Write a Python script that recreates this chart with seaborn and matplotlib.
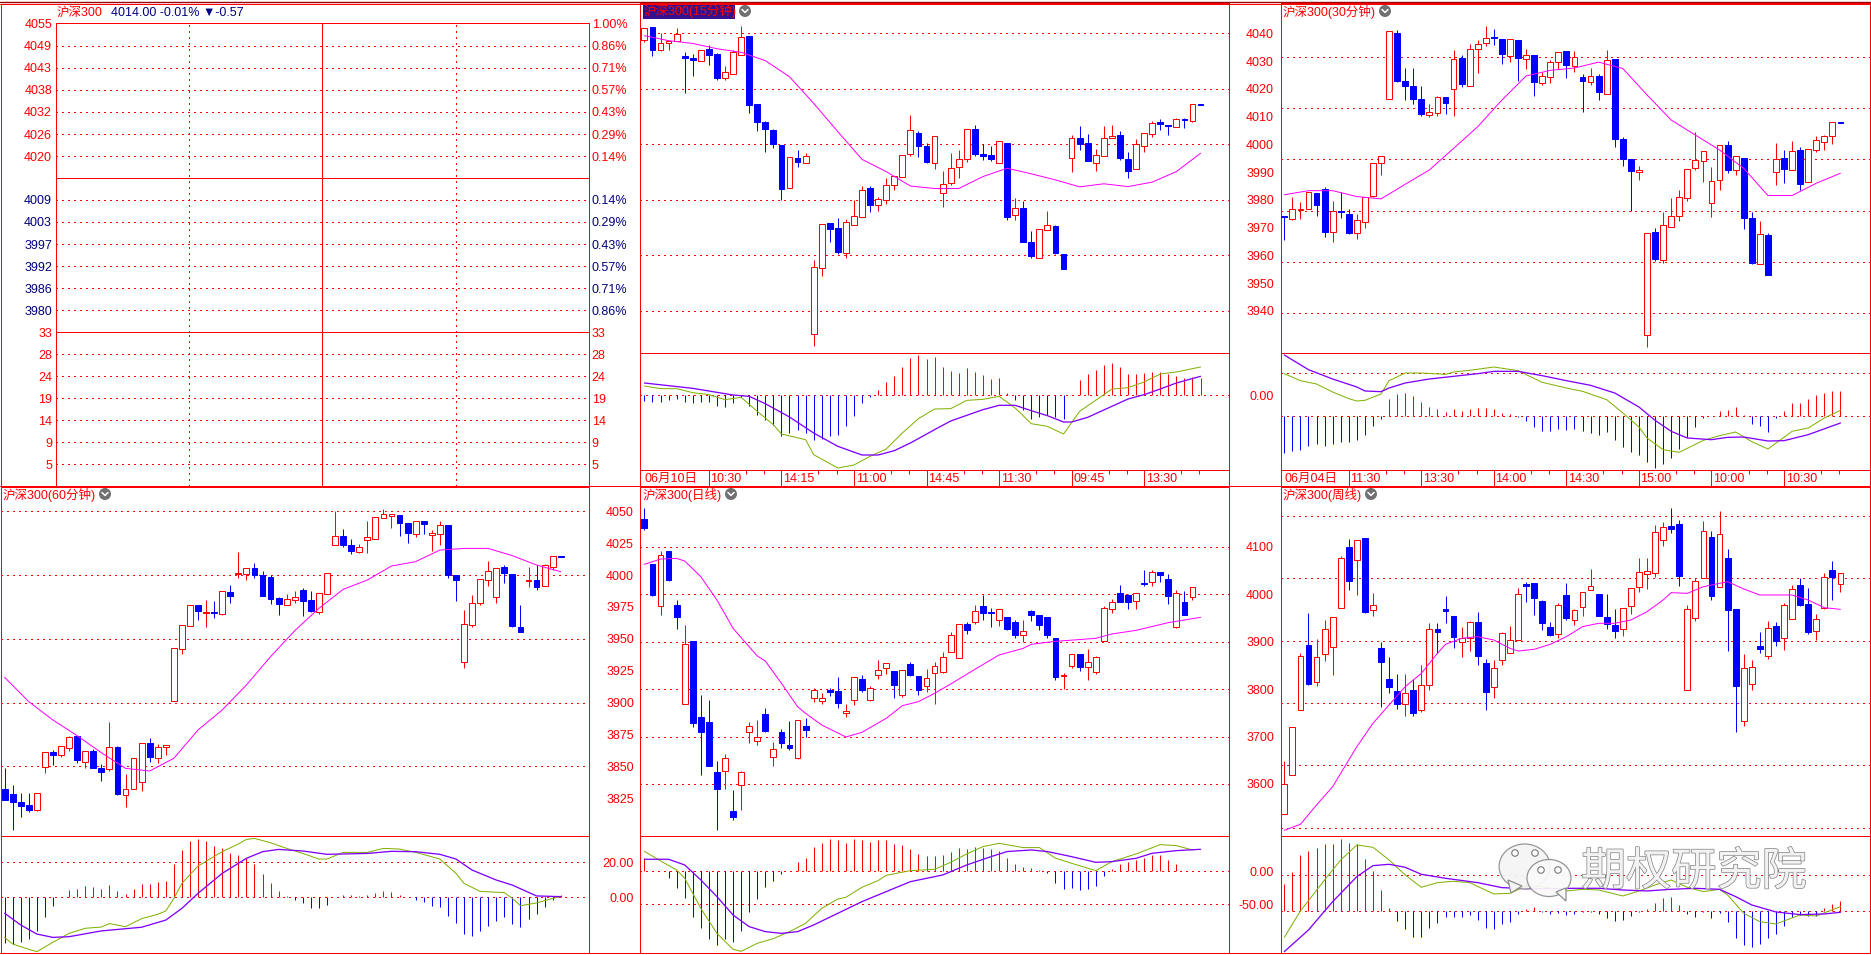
import numpy as np
import matplotlib
matplotlib.use("Agg")
import matplotlib.pyplot as plt
import matplotlib.patheffects as pe
from matplotlib.patches import Ellipse, Polygon, Rectangle
import seaborn as sns

sns.set_theme(style="white")
plt.rcParams["font.family"] = ["Liberation Sans", "Noto Sans CJK SC", "DejaVu Sans"]

# ---------- 15 minute ----------
m15_open = [4037.8,4042.3,4034.2,4036.4,4037.4,4031.8,4031.1,4030.2,4034.4,4032.6,
4024.0,4025.5,4032.3,4039.0,4014.6,4008.1,4005.2,3999.8,3984.4,3995.0,
3993.4,3931.5,3955.3,3971.7,3969.9,3961.0,3971.1,3974.0,3984.3,3978.0,
3979.8,3985.3,3988.4,3996.7,4004.1,3999.4,3993.4,3982.6,3986.2,3992.0,
3994.9,4005.4,3996.6,3996.2,3993.4,4000.5,3974.4,3977.1,3964.9,3959.2,
3969.3,3970.6,3960.6,3995.2,4002.3,4000.5,3993.4,3996.0,4002.4,4003.4,
3994.8,3991.3,3999.6,4003.9,4008.0,4007.1,4006.4,4009.3,4008.6,4014.4]
m15_high = [4041.8,4042.3,4040.0,4037.4,4041.9,4033.3,4032.6,4034.2,4035.8,4032.8,
4028.2,4034.0,4042.6,4039.0,4014.6,4008.6,4005.6,3999.8,3995.4,3998.0,
3996.8,3958.4,3971.2,3971.7,3973.5,3973.2,3980.0,3985.0,3985.0,3981.2,
3987.9,3988.5,3996.1,4010.6,4004.8,4000.4,4002.9,3990.4,3996.9,3998.0,
4005.4,4007.0,4000.2,3999.4,4001.1,4000.5,3980.7,3979.6,3968.8,3969.4,
3976.0,3971.0,3960.6,4003.4,4006.6,4003.8,3998.4,4006.6,4007.0,4004.8,
3997.3,4001.8,4004.0,4008.3,4009.2,4007.1,4009.4,4009.5,4014.4,4014.4]
m15_low = [4037.0,4032.0,4033.8,4034.0,4037.4,4018.6,4024.6,4030.2,4028.6,4023.2,
4023.2,4025.5,4032.3,4011.2,4004.8,3997.3,3998.7,3979.8,3984.4,3991.9,
3993.4,3927.2,3952.6,3964.9,3960.6,3959.2,3971.1,3974.0,3975.7,3976.0,
3978.6,3983.6,3988.4,3995.8,3995.5,3993.3,3991.2,3977.5,3985.4,3987.9,
3993.7,3995.8,3994.4,3994.0,3993.4,3972.8,3972.8,3964.9,3959.1,3959.2,
3969.3,3960.6,3955.2,3990.1,3998.0,3994.0,3990.4,3996.0,4002.4,3994.4,
3987.9,3991.3,3997.3,4002.7,4005.2,4003.4,4006.4,4005.9,4008.1,4014.2]
m15_close = [4041.8,4034.0,4036.4,4037.4,4039.8,4031.2,4030.5,4034.2,4032.2,4023.9,
4026.0,4033.3,4038.9,4014.2,4008.1,4005.6,4000.2,3984.0,3995.4,3993.7,
3995.7,3955.8,3971.2,3969.6,3961.3,3972.0,3974.1,3983.5,3978.2,3980.2,
3985.3,3988.5,3996.1,4005.1,3999.4,3993.7,4002.9,3985.6,3991.4,3994.6,
4005.4,3996.6,3995.8,3994.8,4001.1,3973.9,3977.0,3964.9,3959.8,3969.4,
3970.9,3960.9,3955.2,4002.2,4000.2,3994.0,3996.1,4002.2,4003.0,3995.1,
3990.4,4000.0,4004.0,4007.6,4007.4,4006.8,4009.0,4008.9,4014.4,4014.2]
m15_ma_i = [0,3,6,9,12,15,18,21,24,27,30,33,36,39,42,45,48,51,54,57,60,63,66,69]
m15_ma = [4039.2,4037.4,4036.4,4034.5,4033.2,4030.2,4024.4,4014.8,4004.6,3994.6,3990.2,3985,
3984.1,3984.1,3988.4,3991.4,3989.4,3987.2,3984.7,3985.8,3984.8,3986.4,3990.2,3996.8]
m15_hist = [-3.4,-4.4,-4,-3.2,-2.2,-4,-5,-4.4,-4.4,-6.8,-7.4,-5,-1,-6.8,-12.2,-15.2,-18.2,-24.4,-23,-21.2,
-23,-27.2,-26.6,-24.8,-24.2,-18.8,-12.8,-5,-1,2.8,7.6,11.6,16.6,22.4,23.8,21.8,23,17,14.6,13.4,
16.4,14,12.2,9.8,10.4,1.4,-2.8,-9.2,-14.2,-13.4,-11.8,-13,-14.2,0,9.2,12.8,15.2,18.2,19.4,17,
12.8,12.4,13.4,14,14,12.8,11.6,10.4,11,10.4]
m15_dif_i = [0,2,4,6,8,10,12,14,16,17,20,21,24,26,28,30,32,34,36,38,40,42,44,46,48,50,52,54,57,58,60,62,64,66,69]
m15_dif = [5.4,3.8,3.8,1.4,.2,-2.8,-1.4,-9.8,-17.8,-23.4,-26.8,-35.8,-43.8,-42,-36.8,-32.4,-22.8,-14.2,-8.4,-8.2,
-3.2,-2.6,-.8,-7.8,-17.2,-18.8,-23.4,-9.8,.2,3.6,4.4,7.8,12.6,13.8,16.8]
m15_dea_i = [0,3,6,9,11,13,15,18,21,24,27,29,31,33,36,38,40,42,44,46,48,50,52,53,55,58,60,62,64,66,69]
m15_dea = [7.2,5.6,4,1.6,0,-.8,-5.2,-13.2,-22.8,-30.8,-36,-36,-33.4,-28.8,-20.8,-15.6,-12.2,-8.8,-6.2,-6.2,-9.4,
-12.4,-16.2,-16.2,-13.4,-6.8,-2.4,.2,3.6,7.2,11.2]

# ---------- 30 minute ----------
m30_open = [3978.0,3976.9,3980.3,3980.8,3986.8,3988.4,3971.5,3979.9,3978.7,3971.1,
3975.7,3985.9,3998.5,4023.7,4049.3,4030.6,4028.7,4023.6,4017.5,4018.3,
4024.4,4027.6,4039.6,4028.8,4043.2,4045.3,4047.8,4047.0,4040.5,4046.6,
4039.3,4040.7,4030.0,4032.3,4038.2,4042.3,4036.6,4032.2,4030.3,4032.6,
4025.7,4039.2,4008.0,4000.2,3994.9,3931.3,3971.7,3960.9,3973.8,3978.1,
3985.0,3996.8,3999.2,3982.8,3992.0,4005.6,3996.0,4000.6,3977.2,3959.0,
3970.5,3995.2,4000.6,3996.0,4003.7,3991.3,4003.8,4006.9,4009.0,4014.5]
m30_high = [3978.0,3985.2,3983.4,3987.2,3986.8,3989.2,3983.8,3987.3,3980.6,3978.7,
3985.5,3998.5,4001.2,4050.0,4050.5,4035.7,4035.7,4028.7,4021.6,4024.8,
4024.4,4042.7,4040.7,4045.0,4046.6,4052.1,4050.9,4047.0,4047.2,4046.6,
4043.1,4040.7,4034.1,4038.8,4041.8,4042.3,4042.3,4033.3,4035.7,4033.3,
4042.7,4039.2,4008.8,4000.2,3997.5,3971.2,3973.3,3979.5,3985.0,3988.1,
3996.2,4010.7,4003.2,3997.1,4005.5,4007.2,4001.2,4000.6,3979.5,3976.0,
3971.3,4006.4,4003.7,4007.2,4004.9,4004.0,4009.2,4009.5,4014.5,4014.5]
m30_low = [3968.6,3976.4,3976.8,3980.8,3978.0,3969.8,3967.8,3977.2,3970.9,3969.0,
3973.3,3985.4,3993.9,4023.7,4030.2,4023.2,4021.6,4017.0,4016.6,4017.0,
4017.7,4017.0,4028.3,4028.8,4033.7,4044.3,4044.6,4037.2,4038.0,4030.6,
4035.3,4024.8,4029.0,4029.8,4035.3,4031.8,4034.1,4018.5,4029.0,4023.2,
4025.7,4004.9,3997.5,3979.9,3992.0,3926.9,3960.4,3959.4,3973.8,3976.0,
3983.8,3995.9,3991.2,3977.6,3988.1,3994.7,3993.9,3972.9,3959.1,3959.0,
3954.9,3990.0,3990.8,3996.0,3988.1,3991.3,4002.9,4003.7,4006.0,4014.2]
m30_close = [3977.4,3980.6,3980.7,3987.2,3982.2,3971.7,3979.8,3979.5,3971.3,3976.3,
3985.5,3998.5,4001.2,4050.0,4030.6,4028.7,4023.6,4017.7,4018.4,4024.2,
4022.0,4039.1,4029.4,4043.3,4044.9,4047.6,4047.4,4041.1,4047.2,4039.6,
4040.6,4030.2,4032.4,4037.9,4041.8,4036.8,4040.0,4030.6,4032.4,4026.3,
4038.9,4008.0,4000.2,3995.5,3995.8,3971.2,3961.2,3974.3,3977.8,3985.2,
3996.2,3999.7,4003.2,3991.5,4005.5,3995.9,4001.2,3977.2,3959.5,3970.8,
3954.9,4000.0,3996.3,4003.2,3990.4,4004.0,4007.5,4009.0,4014.5,4014.2]
m30_ma_i = [0,3,6,9,12,15,18,21,24,27,30,33,36,39,42,45,48,51,54,57,60,63,66,69]
m30_ma = [3986.2,3987.8,3987.8,3985.5,3984.6,3990.3,3995.9,4004.3,4012.8,4023.2,4032.6,4034.8,
4035.7,4038,4035.5,4025.2,4015.4,4009.5,4003.7,3996.5,3985.9,3985.9,3990.7,3994.6]
m30_hist = [-22,-20.8,-20.2,-17.8,-16.6,-17.8,-16.6,-15.4,-15.4,-14.2,-11.2,-5.8,-1.6,10.4,13.4,14,12.2,8.6,5.6,4.4,
2.6,4.4,3.2,4.4,5,5,4.4,2,1.4,-.8,-2.8,-6.4,-8.8,-8.8,-7.6,-8.2,-7.6,-8.8,-10,-11.2,
-9.4,-14.2,-18.4,-21.4,-23.2,-27.4,-31,-28.6,-25,-19.6,-12.4,-6.4,-1,0,3.2,3.8,5.6,.6,-4.6,-5.8,
-9.4,-1,3.2,8,8,10.4,12.8,14,15.2,15.2]
m30_dif_i = [0,2,4,6,8,9,10,12,13,15,17,20,21,23,26,29,32,35,37,40,42,44,45,47,49,52,54,56,58,60,63,65,67,69]
m30_dif = [25.4,21.2,19.2,14.4,10.4,9,9.4,13.2,21.2,25.8,25.8,25,26.4,27.4,29.4,27.2,20.2,16.8,14.8,9.8,1.8,-6.6,
-13.2,-20.2,-21.8,-14.6,-11.8,-9.6,-15.4,-19.8,-9.2,-7.2,-1.2,3.4]
m30_dea_i = [0,3,6,9,10,12,13,15,18,21,24,26,29,32,35,38,41,44,46,48,50,53,55,57,60,62,65,69]
m30_dea = [36.6,27.8,22.2,17.4,15,14.6,16.8,19.8,22.2,23.8,25.4,26.8,26.8,24.2,21.2,18.4,13.8,5.4,-2.6,-9.2,-13.2,
-14.2,-12.8,-12.6,-15,-14.8,-11.2,-4.2]

# ---------- 60 minute ----------
m60_open = [3832.2,3828.3,3822,3819.7,3816,3849.7,3861.2,3859.1,3864.6,3873.8,
3853.6,3862,3848.7,3848.1,3865.1,3827.8,3831.9,3838,3868.3,3856.8,
3864.9,3901.5,3942.3,3960.3,3976.5,3970,3970.7,3969.7,3986.7,4000.6,
4001.1,4005.5,4000,3998.5,3982,3976.8,3980.4,3988.3,3980.4,3971.3,
3985.4,4023.8,4030.6,4023.6,4018.1,4027.7,4028.5,4045,4046.6,4047.1,
4040.8,4032.4,4042.4,4031.7,4032.2,4039.2,4000,3931.5,3961.1,3978.3,
3996.4,3983,4006.3,4000.8,3959.2,3995.3,3996.1,3991.7,4006.6,4014.7]
m60_high = [3848.7,3835.3,3829.1,3829.1,3828.8,3861,3862.8,3865.7,3873.5,3873.8,
3861.7,3863.6,3851.8,3884.7,3865.9,3844,3856.3,3868,3872.2,3867.5,
3866.4,3942.5,3960.6,3976.2,3976.5,3980.4,3979.6,3987.2,3992.2,4018.1,
4005.2,4009.4,4003.2,4000,3982.8,3985.1,3987.5,3989.8,3987.5,3985.6,
4001.3,4049.9,4036.1,4028.3,4024.3,4042.4,4045.2,4051.8,4047.6,4047.1,
4040.8,4042.1,4042.4,4035.3,4042.4,4039.2,4000,3972.6,3984.3,3996.6,
4011,4005.2,4007.9,4000.8,3976.5,4006.3,4007.9,4008.6,4014.7,4014.7]
m60_low = [3823.6,3800,3810.2,3814.2,3815.2,3844.7,3851,3857.3,3862,3852.6,
3848.7,3848.7,3838.5,3846.3,3827.5,3818.1,3831.9,3830.6,3853.4,3852.6,
3858.9,3901.5,3938.1,3960.3,3964.7,3959.2,3966.3,3968.7,3978.1,3997.7,
3996.1,3997.7,3983.6,3977.3,3968.7,3976.8,3978.1,3967.9,3971,3969.4,
3985.4,4023.8,4022,4016.5,4017.3,4017.3,4028.5,4045,4036.9,4030.6,
4025.1,4029.8,4032.2,4018.8,4023.6,3997.7,3979.6,3927.1,3959.2,3976.5,
3991.4,3978.1,3993.7,3959.2,3955.3,3990.6,3988.3,3991.7,4004.2,4014.4]
m60_close = [3823.6,3822,3818.9,3815.7,3828.8,3861,3858.9,3865.7,3872.7,3854.9,
3861.7,3848.7,3845.6,3864.9,3828.3,3831.9,3856.3,3868,3857.3,3864.9,
3866.4,3942.5,3960.6,3976.2,3971.8,3970.7,3970.2,3987.2,3983.6,4001.3,
4005.2,4000,3983.6,3981.2,3977.3,3980.9,3982.5,3979.6,3971.8,3985.6,
4001.3,4030.3,4023.6,4018.8,4021.7,4029.6,4045.2,4047.6,4047.6,4040.8,
4033,4042.1,4040,4032.7,4039,4000,3996.1,3961.3,3977.8,3996.6,
4002.9,4005.2,4001.6,3960,3955.3,3995.8,3990.6,4007.6,4014.7,4014.4]
m60_ma_i = [0,3,6,9,12,15,18,21,24,27,30,33,36,39,42,45,48,51,54,57,60,63,66,69]
m60_ma = [3919.8,3900.7,3886.3,3874,3860.7,3848.4,3846.3,3856.3,3878.5,3894.2,3913.8,3936,3956.4,3973.9,3988.8,
3996.1,4007.1,4010.5,4019.6,4020.9,4020.9,4015.2,4007.9,4002.6]
m60_hist = [-25.9,-26.7,-25.3,-23.6,-19,-11,-5,0,4.2,4.8,6.5,5.9,4.8,7,3.6,1.9,4.8,7.6,7.6,8.8,
9.3,19,27,32.2,33.3,32.2,29.3,28.2,25.3,24.2,22.5,19,13.3,8.2,3.6,.8,-1.3,-3.2,-6.1,-6.1,
-4.4,0,1.3,1.3,.8,1.3,2.5,3.6,3,1.3,0,-1.3,-2.7,-5,-5.5,-10.7,-14.7,-21,-22.1,-19.2,
-16.4,-13.5,-11.2,-15.2,-17,-12.4,-9.5,-5.5,-1.5,1.1]
m60_dif_i = [0,1,3,4,6,8,10,12,13,15,17,19,20,21,22,24,27,29,30,31,33,35,37,39,40,42,45,47,49,51,53,54,56,57,59,62,63,64,66,68,69]
m60_dif = [-22.9,-26.7,-29.7,-31.1,-25.7,-20.6,-17.7,-17,-15,-16.8,-12.2,-9.7,-7.8,-.6,8,17.9,26.1,30.5,33.1,33.7,
31.2,28,25.1,21.9,21.9,25.7,25.7,28,27.6,25.7,23.2,21.9,13.7,8,3.4,2.7,-.6,-4.8,-3.2,-.6,.4]
m60_dea_i = [0,2,4,6,8,12,17,20,22,24,27,30,32,34,37,40,45,48,51,54,56,58,61,63,66,69]
m60_dea = [-9.1,-15.8,-21,-22.9,-22.5,-19.2,-17.1,-13,-6.3,2.3,13.7,22.3,26.1,27.4,26.5,24.6,25.1,26.3,26.1,24.6,
21.9,15.6,9.9,7,.8,.4]

# ---------- daily ----------
day_open = [4158.9,4064,3974.7,4091.4,3977.5,3768.7,3901.6,3741.3,3730.8,3625.3,
3628.1,3543.1,3598.6,3710.4,3691.4,3747.6,3657.6,3709.7,3682.3,3654.8,
3722.3,3780.7,3775.1,3798.3,3796.1,3750.5,3777.9,3821.5,3777.9,3830.6,
3845.4,3838.3,3788.4,3853.1,3827.8,3807.4,3834.8,3836.9,3879.1,3866.4,
3937.4,3942.4,3975.4,3962.8,3946.6,3952.2,3941.7,3915,3964.9,3956.4,
3952.2,3907.9,3828.5,3849.6,3874.2,3847.5,3836.9,3900.9,3969.8,4002.8,
3998.6,3986.7,4023.2,4026.7,4047.1,4032.4,3931.1,3983.8,3995.1]
day_high = [4182.1,4064,4091.4,4091.4,3988.1,3935.3,3901.6,3787.7,3777.2,3648.5,
3663.3,3587.4,3626.7,3730.8,3735,3760.3,3688.6,3716,3732.9,3734.3,
3739.2,3801.8,3791.9,3802.5,3825.7,3768.7,3825,3829.9,3806.7,3861.5,
3854.5,3838.3,3839.7,3857.3,3827.8,3842.5,3857.3,3878.4,3920.6,3936.7,
3941.7,3977.5,3998.6,3971.2,3968.4,3952.2,3945.9,3945.9,3967,3956.4,
3952.2,3907.9,3834.1,3873.5,3874.2,3884.7,3870,3974.7,3990.2,4019.7,
4000.7,4002.1,4051.3,4051.3,4047.1,4042.9,4008.5,4007,4014.8]
day_low = [4135.7,3996.5,3956.4,4028.1,3926.9,3768.7,3720.2,3619,3638,3503,
3589.5,3524.1,3545.2,3686.5,3682.3,3709.7,3638,3675.9,3671.7,3652.7,
3699.1,3772.9,3768.7,3785.6,3760.3,3741.3,3766.6,3794,3775.1,3821.5,
3832,3781.4,3783.5,3827.8,3787.7,3794,3768.7,3834.1,3879.1,3866.4,
3916.4,3937.4,3945.9,3931.1,3933.2,3924.8,3907.9,3899.5,3943.8,3924.8,
3907.9,3819.3,3800.4,3844.7,3838.3,3819.3,3832,3900.9,3960.6,3983.8,
3969.1,3969.1,4017.6,4017.6,4026,3979.6,3929,3956.4,3988.1]
day_close = [4139.9,3998.6,4082.3,4030.2,3952.2,3894.6,3728.6,3709.7,3638,3589.5,
3654.1,3530.4,3624.6,3721.6,3699.1,3711.8,3673.1,3686.5,3675.9,3734.3,
3713.9,3797.6,3780.7,3794.7,3770.8,3753.3,3825,3798.3,3801.8,3839.7,
3854.5,3808.8,3839.7,3829.9,3798.3,3822.9,3848.2,3867.1,3913.5,3936.7,
3924.8,3964.2,3960.6,3960.6,3968.4,3926.9,3914.2,3922,3956.4,3935.3,
3914.2,3825.7,3830.6,3873.5,3846.8,3856.6,3867.1,3970.5,3983.1,3983.8,
3983.8,4002.1,4021.1,4046.4,4040.8,3996.5,4002.1,3956.4,4014.8]
day_ma_i = [0,2,4,5,7,9,11,14,15,17,19,20,22,25,27,30,32,34,36,38,41,44,47,48,51,56,58,61,65,69]
day_ma = [4063.3,4074.5,4075.9,4070.3,4037.3,3988.1,3928.3,3870,3859.4,3812.3,3763.1,3749,3724.4,3699.1,3709,
3738.5,3765.2,3773.6,3791.2,3810.9,3841.8,3872.1,3886.1,3894.6,3900.9,3907.2,3916.4,3924.1,3940.3,3951.5]
day_hist = [20.2,0,0,-10.1,-25.3,-40.4,-69.2,-85.9,-102.5,-111.6,-102.5,-107.1,-90.4,-61.6,-41.9,-23.7,-14.6,-4,0,14.1,
20.2,36.9,42.9,49,47.5,42.9,49,47.5,44.4,47.5,47.5,41.4,39.9,33.8,26.3,23.2,23.2,24.7,29.3,35.4,
33.8,36.9,35.4,33.8,30.8,20.2,11.1,6.6,5,2,-2.5,-17.7,-26.8,-25.3,-28.3,-26.8,-22.2,-7.1,3.5,11.1,
14.1,17.2,20.2,24.7,24.7,17.2,11.1,.5,.5,.5]
day_dif_i = [0,2,4,5,7,9,11,12,14,16,18,20,22,24,25,27,29,30,33,36,38,40,42,44,47,49,51,53,56,58,61,64,66,68]
day_dif = [30.3,15.7,2,-10.6,-56.1,-94,-118.2,-121.2,-109.1,-102,-91.4,-78.8,-56.1,-42,-39.4,-24.2,-14.1,-6.1,1,3,
13.6,26.3,37.4,42.4,35.9,35.9,19.9,12.1,1,14.6,26.3,40.4,38.9,32.3]
day_dea_i = [0,3,5,7,9,11,13,15,17,19,21,24,27,30,33,37,40,43,45,48,50,53,56,58,61,63,66,69]
day_dea = [18.2,18.2,9.6,-13.1,-38.4,-66.2,-83.8,-91.4,-94,-91.4,-81.3,-63.6,-45.9,-30.8,-15.7,-5.6,9.6,22.2,29.9,
32.3,29.9,22.2,13.6,14.6,19.7,27.3,31.3,33.3]

# ---------- weekly ----------
wk_open = [3242.4,3367.6,3576.3,3786,3666.2,3756,3778.5,3903.7,4100.6,4057.8,
4129.5,3897.3,3776.4,3676.9,3638.3,3595.5,3641.6,3578.4,3656.5,3837.4,
3901.6,3879.1,3794.6,3808.5,3859.8,3728.2,3650.1,3736.8,3759.2,3802,
3981.8,3985,3927.2,3843.8,3820.2,3946.5,3865.2,3906.9,3963.6,3949.7,
3875.9,3850.2,3836.3,3910.1,3971.1,4015,4016,4122,4168,4174.4,
3640.5,3873.7,4000,4132.7,3971.1,4065.3,3901.6,3543.1,3659.7,3782.8,
3750.7,3847,3809.5,3868.4,3978.6,3917.6,3829.9,3903.7,4026.7,3982.9]
wk_high = [3413.6,3521.7,3760.3,3888.7,3805.3,3866.2,3874.8,4071.7,4126.3,4122,
4129.5,3952.9,3795.6,3747.5,3692.9,3692.9,3676.9,3721.8,3856.6,3856.6,
3943.3,3879.1,3843.8,3863,3891.9,3741.1,3737.8,3827.7,3847,3969,
3988.2,3985,3930.4,3859.8,3920.8,3985,3901.6,3955.1,4030,3949.7,
3949.7,3901.6,3903.7,3967.9,4065.3,4065.3,4171.2,4180.8,4225.8,4187.2,
3913.3,4000,4184,4151.9,4216.1,4094.2,3901.6,3757.1,3737.8,3827.7,
3863,3859.8,3920.8,3978.6,4001.1,3969,3885.5,4017.1,4055.6,4016]
wk_low = [3242.4,3367.6,3576.3,3657.6,3654.4,3734.6,3689.7,3903.7,3962.6,3946.5,
3888.7,3879.1,3587,3631.9,3580.6,3558.1,3558.1,3572,3641.6,3760.3,
3856.6,3776.4,3747.5,3766.7,3721.8,3577.3,3615.9,3721.8,3759.2,3802,
3924,3882.3,3834.1,3814.9,3808.5,3866.2,3850.2,3879.1,3963.6,3879.1,
3837.4,3808.5,3814.9,3885.5,3956.1,3965.8,4004.3,4103.8,4145.5,3975.4,
3640.5,3863,4000,3930.4,3971.1,3766.7,3506.7,3526,3641.6,3760.3,
3741.1,3782.8,3769.9,3868.4,3911.2,3821.3,3802,3901.6,3930.4,3956.1]
wk_close = [3338.7,3521.7,3749.6,3660.8,3746.4,3836.3,3874.8,4064.2,3991.4,4122,
3891.9,3913.3,3731.4,3651.2,3596.6,3630.8,3567.7,3656.5,3836.3,3827.7,
3895.1,3811.7,3809.5,3858.8,3750.7,3635.1,3711.1,3823.4,3801,3948.6,
3975.4,3936.9,3856.6,3818.1,3913.3,3872.7,3897.3,3955.1,3974.3,3879.1,
3852.3,3830.9,3903.7,3967.9,4019.3,4022.5,4147.7,4163.7,4158.4,4007.5,
3900.5,3990.4,4150.9,3943.3,4141.2,3898.3,3654.4,3711.1,3714.3,3773.2,
3839.5,3798.8,3913.3,3964.7,3914.4,3827.7,3868.4,4003.2,4004.3,4016]
wk_ma_i = [0,2,4,6,8,9,11,13,15,17,19,20,22,24,26,28,29,31,33,35,37,39,41,43,45,47,48,50,52,55,57,59,63,65,67,69]
wk_ma = [3191.1,3210.3,3272.4,3331.2,3416.8,3459.6,3534.6,3593.4,3652.2,3695,3759.2,3788.1,3807.4,3812.7,3802,
3775.3,3766.7,3772.1,3788.1,3812.7,3844.8,3855.6,3855.6,3866.2,3893,3930.4,3954,3951.8,3973.2,3989.3,3965.8,
3946.5,3946.5,3930.4,3905.8,3900.5]
wk_hist = [41,59,84.5,90.5,95,101,101,108.5,102.5,101,78.5,60.5,32,5,-14.5,-26.5,-38.5,-38.5,-25,-17.5,
-8.5,-8.5,-8.5,-5.5,-13,-25,-26.5,-19,-16,-4,3.5,6.5,-1,-4,-2.5,-5.5,-4,-1,-1,-4,
-10,-14.5,-13,-7,-1,3.5,12.5,20,21.5,9.5,-4,-8.5,-1,-10,-2.5,-16,-40,-50.5,-53.5,-49,
-40,-34,-22,-9,-5,-7,-7,5,11,15.5]
wk_dif_i = [0,2,5,7,9,11,13,15,17,19,21,23,26,28,30,32,35,37,39,42,44,46,48,50,52,54,55,57,59,61,64,66,69]
wk_dif = [-39,.5,47,77,99.5,96,77,54.5,36,43,45,43,26,27,38,37,30.5,33,32,23,30.5,39.5,47,36,29.5,33,24.5,-3,-15.5,
-19,-5.5,-7,7]
wk_dea_i = [0,3,6,9,11,13,15,17,20,24,27,30,33,36,39,42,45,48,51,54,56,58,61,64,67,69]
wk_dea = [-60.5,-28,14.5,52,68.5,70.5,66,55.5,49.5,43,35.5,34,34,34.5,34.5,32,30.5,33,34.5,33,22,9.5,-1,-5,-4,-1.5]

# ---------- axis text ----------
up_prices = [4049.2,4043.4,4037.6,4031.8,4026.0,4020.2]
up_labels = ["4049","4043","4038","4032","4026","4020"]
dn_prices = [4008.7,4002.9,3997.1,3991.3,3985.5,3979.7]
dn_labels = ["4009","4003","3997","3992","3986","3980"]
up_pct = ["0.86%","0.71%","0.57%","0.43%","0.29%","0.14%"]
dn_pct = ["0.14%","0.29%","0.43%","0.57%","0.71%","0.86%"]
vol_ticks = [33,28.3,23.6,18.9,14.1,9.4,4.7]
vol_labels = ["33","28","24","19","14","9","5"]
times15 = ["10:30","14:15","11:00","14:45","11:30","09:45","13:30"]
times30 = ["11:30","13:30","14:00","14:30","15:00","10:00","10:30"]
time_idx = [8,17,26,35,44,53,62]
m15_labels = [4040,4030,4020,4010,4000,3990,3980,3970,3960,3950,3940]
m15_grid = [4040,4020,4000,3980,3960,3940]
m30_grid = [4040,4020,4000,3980,3960,3940]
m60_labels = [4050,4025,4000,3975,3950,3925,3900,3875,3850,3825]
m60_grid = [4050,4000,3950,3900,3850]
day_labels = [4100,4000,3900,3800,3700,3600]
wk_grid = [4200,4000,3800,3600,3400,3200]

RED, BLUE, NAVY = "#FF0000", "#0000FF", "#000080"
MAG, GRN, PUR = "#FF00FF", "#80B000", "#8000FF"
DOT = (0, (1.4, 4.2))
PX = 0.72
W, H = 1871, 955

fig = plt.figure(figsize=(W / 100, H / 100), dpi=100, facecolor="white")


def ax_px(x0, y0, x1, y1):
    ax = fig.add_axes([x0 / W, 1 - y1 / H, (x1 - x0) / W, (y1 - y0) / H])
    ax.set_facecolor("white")
    for s in ax.spines.values():
        s.set_color(RED)
        s.set_linewidth(PX)
    ax.tick_params(length=0, colors=RED, labelsize=9)
    ax.set_xticks([])
    ax.set_yticks([])
    return ax


def hdot(ax, ys):
    for y in ys:
        ax.axhline(y, color=RED, lw=PX, ls=DOT, zorder=1, antialiased=False)


def right_labels(ax, vals, labels, pad_px):
    ax.yaxis.tick_right()
    ax.set_yticks(vals)
    ax.set_yticklabels(labels, color=RED, fontsize=9, ha="right")
    ax.tick_params(axis="y", length=0, pad=pad_px * PX)


def candles(ax, o, h, l, c):
    o, h, l, c = map(np.asarray, (o, h, l, c))
    x = np.arange(len(o))
    up = c >= o
    ax.vlines(x[up], l[up], h[up], color=RED, lw=PX, zorder=2)
    ax.vlines(x[~up], l[~up], h[~up], color=BLUE, lw=PX, zorder=2)
    ax.bar(x[up], (c - o)[up], bottom=o[up], width=0.72, facecolor="white", edgecolor=RED,
           linewidth=PX, zorder=3)
    ax.bar(x[~up], (c - o)[~up], bottom=o[~up], width=0.72, facecolor=BLUE, edgecolor=BLUE,
           linewidth=PX, zorder=3)


def line(ax, xs, ys, color, lw):
    sns.lineplot(x=xs, y=ys, ax=ax, color=color, lw=lw, estimator=None, sort=False,
                 legend=False, zorder=5)
    ax.set_xlabel("")
    ax.set_ylabel("")


def macd(ax, hist, dif_i, dif, dea_i, dea):
    hist = np.asarray(hist)
    x = np.arange(len(hist))
    ax.vlines(x[hist > 0], 0, hist[hist > 0], color=RED, lw=PX, zorder=2)
    ax.vlines(x[hist < 0], 0, hist[hist < 0], color=BLUE, lw=PX, zorder=2)
    line(ax, dif_i, dif, GRN, PX)
    line(ax, dea_i, dea, PUR, PX * 1.3)


STEP = 8.06


def panel(frame, x_first, price_box, macd_box, ylim, mlim, o, h, l, c, mi, ma, hist, di, dif, ei, dea, grid, mgrid):
    x0, x1 = frame
    xlim = ((x0 - x_first) / STEP, (x1 - x_first) / STEP)
    ax = ax_px(x0, price_box[0], x1, price_box[1])
    candles(ax, o, h, l, c)
    line(ax, mi, ma, MAG, PX)
    hdot(ax, grid)
    ax.set_xlim(*xlim)
    ax.set_ylim(*ylim)
    am = ax_px(x0, macd_box[0], x1, macd_box[1])
    hdot(am, mgrid)
    macd(am, hist, di, dif, ei, dea)
    am.set_xlim(*xlim)
    am.set_ylim(*mlim)
    ax.set_xticks([])
    am.set_xticks([])
    ax.set_yticks([])
    am.set_yticks([])
    return ax, am


# ---------- top-left intraday frame ----------
ax0 = ax_px(55.5, 23.3, 589, 332.3)
ax0.set_xlim(0, 240)
ax0.set_ylim(3973.9, 4055.1)
hdot(ax0, up_prices + dn_prices)
ax0.axhline(4014.5, color=RED, lw=PX)
ax0.axvline(120, color=RED, lw=PX)
for m in (60, 180):
    ax0.axvline(m, color=RED, lw=PX, ls=DOT, antialiased=False)
ticks = [4055] + up_prices + dn_prices
ax0.set_yticks(ticks)
ax0.set_yticklabels(["4055"] + up_labels + dn_labels, fontsize=9)
for t, col in zip(ax0.get_yticklabels(), [RED] * 7 + [NAVY] * 6):
    t.set_color(col)
ax0.tick_params(axis="y", length=0, pad=2.5)
ax0r = ax0.twinx()
ax0r.set_ylim(ax0.get_ylim())
ax0r.set_yticks(ticks)
ax0r.set_yticklabels(["1.00%"] + up_pct + dn_pct, fontsize=9)
for t, col in zip(ax0r.get_yticklabels(), [RED] * 7 + [NAVY] * 6):
    t.set_color(col)
ax0r.tick_params(axis="y", length=0, pad=2)
for s in ax0r.spines.values():
    s.set_visible(False)

ax1 = ax_px(55.5, 332.3, 589, 486.3)
ax1.set_xlim(0, 240)
ax1.set_ylim(0, 33)
hdot(ax1, vol_ticks[1:])
ax1.axvline(120, color=RED, lw=PX)
for m in (60, 180):
    ax1.axvline(m, color=RED, lw=PX, ls=DOT, antialiased=False)
ax1.set_yticks(vol_ticks)
ax1.set_yticklabels(vol_labels, fontsize=9, color=RED)
ax1.tick_params(axis="y", length=0, pad=2.5)
ax1r = ax1.twinx()
ax1r.set_ylim(0, 33)
ax1r.set_yticks(vol_ticks)
ax1r.set_yticklabels(vol_labels, fontsize=9, color=RED)
ax1r.tick_params(axis="y", length=0, pad=2)
for s in ax1r.spines.values():
    s.set_visible(False)

# ---------- K-line panels ----------
a15, m15 = panel((640, 1229), 644.4, (3.5, 353), (353, 470), (3924.8, 4050.8), (-45, 25.2),
                 m15_open, m15_high, m15_low, m15_close, m15_ma_i, m15_ma, m15_hist,
                 m15_dif_i, m15_dif, m15_dea_i, m15_dea, m15_grid, [0])
a30, m30 = panel((1280.5, 1870), 1284.3, (3.5, 353), (353, 470), (3924.4, 4060.9), (-32.4, 37.8),
                 m30_open, m30_high, m30_low, m30_close, m30_ma_i, m30_ma, m30_hist,
                 m30_dif_i, m30_dif, m30_dea_i, m30_dea, m30_grid, [0, 25.6])
a60, m60 = panel((0.5, 589), 4.6, (486.7, 836.3), (836.3, 953.3), (3795.1, 4069.3), (-32, 34.9),
                 m60_open, m60_high, m60_low, m60_close, m60_ma_i, m60_ma, m60_hist,
                 m60_dif_i, m60_dif, m60_dea_i, m60_dea, m60_grid, [0, 20])
ad, md = panel((640, 1229), 644.4, (486.7, 836.3), (836.3, 953.3), (3489.6, 4227.1), (-124.2, 53),
               day_open, day_high, day_low, day_close, day_ma_i, day_ma, day_hist,
               day_dif_i, day_dif, day_dea_i, day_dea, day_labels, [0, -50])
aw, mw = panel((1280.5, 1870), 1284.3, (486.7, 836.3), (836.3, 953.3), (3171.8, 4294.2), (-63, 112.5),
               wk_open, wk_high, wk_low, wk_close, wk_ma_i, wk_ma, wk_hist,
               wk_dif_i, wk_dif, wk_dea_i, wk_dea, wk_grid, [0, 54])

right_labels(a15, m15_labels, [str(v) for v in m15_labels], 45)
right_labels(m15, [0], ["0.00"], 45)
right_labels(a60, m60_labels, [str(v) for v in m60_labels], 45)
right_labels(m60, [20, 0], ["20.00", "0.00"], 45)
right_labels(ad, day_labels, [str(v) for v in day_labels], 45)
right_labels(md, [0, -50], ["0.00", "-50.00"], 45)

# ---------- time axes ----------
for (x0, x1, first, tl, date) in ((640, 1229, 644.4, times15, "06月10日"),
                                  (1280.5, 1870, 1284.3, times30, "06月04日")):
    at = ax_px(x0, 470, x1, 486)
    at.set_xlim((x0 - first) / STEP, (x1 - first) / STEP)
    at.set_ylim(0, 1)
    at.vlines(time_idx, 0, 1, color=RED, lw=PX)
    minor = [t + d for t in time_idx for d in (4.6, 6.85)]
    at.set_xticks(minor)
    at.set_xticklabels([])
    at.tick_params(axis="x", direction="in", top=True, bottom=False, length=3, color=RED, width=PX)
    at.text(0, 0.46, date, color=RED, fontsize=9, va="center", ha="left",
            transform=at.get_xaxis_transform())
    for t, s in zip(time_idx, tl):
        at.text(t + 0.2, 0.46, s, color=RED, fontsize=9, va="center", ha="left",
                transform=at.get_xaxis_transform())

# ---------- overlay: frame lines, captions, watermark ----------
ov = fig.add_axes([0, 0, 1, 1], zorder=20)
ov.set_xlim(0, W)
ov.set_ylim(H, 0)
ov.axis("off")
ov.patch.set_alpha(0)
ov.plot([0, W], [2.4, 2.4], color="#A00000", lw=1.0)
ov.plot([0, W], [3.7, 3.7], color=RED, lw=PX)
ov.plot([0, W], [486.3, 486.3], color=RED, lw=PX)
ov.plot([0.5, 0.5], [3.7, 953], color=RED, lw=PX)
ov.plot([0, W], [953.3, 953.3], color=RED, lw=PX)

ov.add_patch(Rectangle((643, 4.3), 92, 14.4, facecolor="#34108C", edgecolor="none", zorder=1))
captions = [(644, 11.4, "沪深300(15分钟)", 745, 11), (1283, 11.7, "沪深300(30分钟)", 1385, 11),
            (3, 495, "沪深300(60分钟)", 105, 494), (643, 495, "沪深300(日线)", 731, 494),
            (1283, 495, "沪深300(周线)", 1371, 494)]
for x, y, s, ix, iy in captions:
    ov.text(x, y, s, color=RED, fontsize=9, va="center", ha="left", zorder=2)
    ov.add_patch(Ellipse((ix, iy), 12, 12, facecolor="#707070", edgecolor="none"))
    ov.plot([ix - 3, ix, ix + 3], [iy - 1.5, iy + 1.5, iy - 1.5], color="white", lw=1.1)

ov.text(57, 12.7, "沪深300", color=RED, fontsize=9, va="center", ha="left")
ov.text(111, 12.7, "4014.00 -0.01% ▼-0.57", color=NAVY, fontsize=9, va="center", ha="left")

edge = "#8C8C8C"
ov.add_patch(Ellipse((1524.6, 866.5), 51, 45, facecolor="#F4F4F4", edgecolor=edge, lw=0.9, alpha=0.9, zorder=5))
ov.add_patch(Polygon([[1508, 880], [1511, 893], [1522, 886]], facecolor="#F4F4F4", edgecolor=edge, lw=0.9, zorder=5))
ov.add_patch(Ellipse((1549, 878), 44, 37, facecolor="#FAFAFA", edgecolor=edge, lw=0.9, alpha=0.92, zorder=6))
ov.add_patch(Polygon([[1556, 892], [1566, 901], [1566, 888]], facecolor="#FAFAFA", edgecolor=edge, lw=0.9, zorder=6))
for ex, ey, z in ((1515, 853, 7), (1535, 853, 7), (1541, 870, 8), (1558, 870, 8)):
    ov.add_patch(Ellipse((ex, ey), 6.5, 6.5, facecolor="white", edgecolor="#777777", lw=0.8, zorder=z))
wm = ov.text(1581, 872, "期权研究院", fontsize=32.5, color="#F2F2F2",
             family=["Noto Sans CJK SC"], weight="light", va="center", ha="left", zorder=9)
wm.set_path_effects([pe.Stroke(linewidth=1.0, foreground="#808080"), pe.Normal()])

fig.savefig("out.png", dpi=100, facecolor="white")
